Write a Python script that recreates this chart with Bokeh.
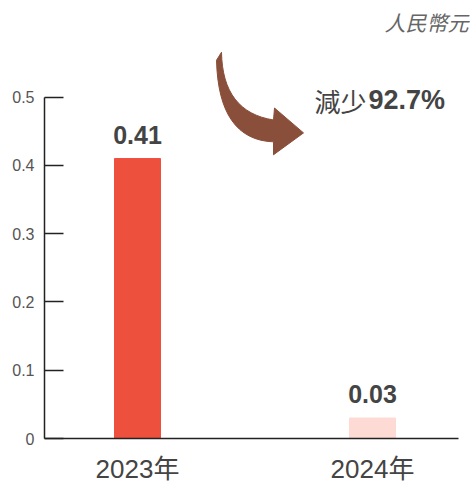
from bokeh.plotting import figure
from bokeh.models import Range1d, FixedTicker, ColumnDataSource
from bokeh.core.properties import value
from bokeh.embed import file_html
from bokeh.resources import INLINE

years = ["2023年", "2024年"]
values = [0.41, 0.03]
value_labels = ["0.41", "0.03"]
bar_colors = ["#EE503E", "#FDDAD4"]
y_ticks = [0, 0.1, 0.2, 0.3, 0.4, 0.5]
unit_label = "人民幣元"
change_word = "減少"
change_pct = "92.7%"

FONT = "'Liberation Sans', 'Noto Sans CJK TC'"
CJK = "'Noto Sans CJK TC'"

# layout mapping (pixels within the canvas)
PX_PER_X = 235.0
PX_PER_Y = 686.0
X0 = 137.0   # screen x of x=0
Y0 = 440.0   # screen y of y=0
LEFT = 44
W, H = 470, 486

x_start = -(X0 - LEFT) / PX_PER_X
x_end = (W - X0) / PX_PER_X
y_end = Y0 / PX_PER_Y

p = figure(width=W, height=H, output_backend="svg", toolbar_location=None,
           x_range=Range1d(x_start, x_end), y_range=Range1d(0, y_end),
           min_border_left=LEFT, min_border_right=0, min_border_top=0,
           min_border_bottom=H - int(Y0))
p.outline_line_color = None
p.xgrid.visible = False
p.ygrid.visible = False
p.background_fill_color = "white"

xs = list(range(len(years)))
src = ColumnDataSource(dict(x=xs, top=values, color=bar_colors, lab=value_labels))
p.vbar(x="x", top="top", bottom=0, width=46 / PX_PER_X, color="color", source=src)
p.text(x="x", y="top", text="lab", source=src, text_align="center",
       text_baseline="bottom", y_offset=-15, text_font=value(FONT),
       text_font_size="25px", text_font_style="bold", text_color="#444444")

# axes
p.xaxis.ticker = FixedTicker(ticks=xs)
p.xaxis.major_label_overrides = {i: y for i, y in enumerate(years)}
p.xaxis.bounds = (x_start, (458 - X0) / PX_PER_X)
p.xaxis.axis_line_color = "#222222"
p.xaxis.axis_line_width = 1.5
p.xaxis.major_tick_in = 0
p.xaxis.major_tick_out = 0
p.xaxis.minor_tick_line_color = None
p.xaxis.major_label_standoff = 15
p.xaxis.major_label_text_font = FONT
p.xaxis.major_label_text_font_size = "26px"
p.xaxis.major_label_text_color = "#444444"

p.yaxis.ticker = FixedTicker(ticks=y_ticks)
p.yaxis.major_label_overrides = {0: "0"}
p.yaxis.bounds = (0, 0.5)
p.yaxis.axis_line_color = "#222222"
p.yaxis.axis_line_width = 1.5
p.yaxis.major_tick_line_color = "#222222"
p.yaxis.major_tick_line_width = 1.5
p.yaxis.major_tick_in = 19
p.yaxis.major_tick_out = 0
p.yaxis.minor_tick_line_color = None
p.yaxis.major_label_standoff = 10
p.yaxis.major_label_text_font = FONT
p.yaxis.major_label_text_font_size = "16px"
p.yaxis.major_label_text_color = "#555555"

def to_data(px, py):
    return (px - X0) / PX_PER_X, (Y0 - py) / PX_PER_Y

def bezier(p0, c, p2, n=16):
    pts = []
    for i in range(n + 1):
        t = i / n
        a, b, d = (1 - t) ** 2, 2 * (1 - t) * t, t ** 2
        pts.append((a * p0[0] + b * c[0] + d * p2[0], a * p0[1] + b * c[1] + d * p2[1]))
    return pts

inner = bezier((221, 52), (222, 112), (273, 120))
outer = bezier((273, 142), (218, 140), (216, 60))
arrow_px = inner + [(274, 108), (303, 133), (273, 155)] + outer
ax, ay = zip(*[to_data(a, b) for a, b in arrow_px])
p.patch(list(ax), list(ay), fill_color="#8A4F3A", line_color="#8A4F3A", line_width=1)

tx, ty = to_data(366, 100)
p.text(x=[tx], y=[ty], text=[change_word], text_align="right", text_baseline="middle",
       text_font=value(CJK), text_font_size="26px", text_color="#444444")
tx2, _ = to_data(368, 100)
p.text(x=[tx2], y=[ty], text=[change_pct], text_align="left", text_baseline="middle",
       text_font=value(FONT), text_font_size="27px", text_font_style="bold",
       text_color="#444444")

ux, uy = to_data(468, 22)
p.text(x=[ux], y=[uy], text=[unit_label], text_align="right", text_baseline="middle",
       text_font=value(CJK), text_font_size="21px", text_font_style="italic",
       text_color="#666666")

open("out.html", "w").write(file_html(p, INLINE))
